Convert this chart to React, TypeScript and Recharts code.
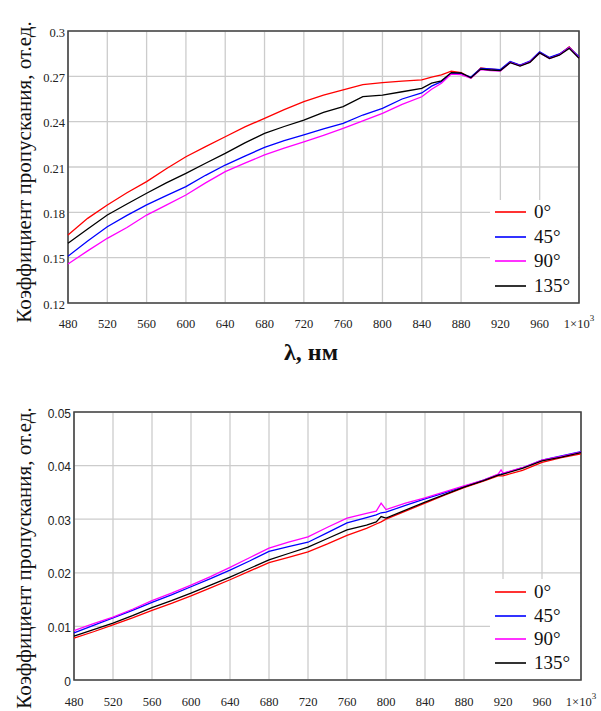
import React from 'react'
import {
  LineChart,
  Line,
  XAxis,
  YAxis,
  CartesianGrid,
  ReferenceArea,
} from 'recharts'

// wavelengths, nm
const topLambda = [
  480, 500, 520, 540, 560, 580, 600, 620, 640, 660, 680, 700, 720, 740, 760,
  780, 800, 820, 840, 850, 860, 870, 880, 890, 900, 910, 920, 930, 940, 950,
  960, 970, 980, 990, 1000,
]
const top0 = [
  0.165, 0.176, 0.1849, 0.193, 0.2003, 0.2088, 0.2168, 0.2235, 0.23, 0.2365,
  0.2422, 0.248, 0.2532, 0.2575, 0.261, 0.2645, 0.2658, 0.2668, 0.2676, 0.2695,
  0.271, 0.2735, 0.2725, 0.269, 0.2755, 0.2748, 0.2742, 0.2795, 0.2772, 0.2795,
  0.2858, 0.2822, 0.2845, 0.2895, 0.2825,
]
const top45 = [
  0.151, 0.161, 0.1705, 0.178, 0.1849, 0.191, 0.197, 0.2045, 0.2113, 0.2172,
  0.223, 0.2275, 0.2312, 0.2352, 0.2389, 0.2444, 0.2488, 0.255, 0.259, 0.2635,
  0.2665, 0.272, 0.2718, 0.2695, 0.2752, 0.275, 0.2745, 0.2798, 0.2775, 0.28,
  0.2862, 0.2825, 0.2848, 0.2892, 0.283,
]
const top90 = [
  0.1458, 0.1545, 0.1628, 0.17, 0.1782, 0.1848, 0.1915, 0.1995, 0.2069, 0.2125,
  0.218, 0.2225, 0.2267, 0.231, 0.2356, 0.2405, 0.2455, 0.2515, 0.2565, 0.2615,
  0.2654, 0.2715, 0.2712, 0.2688, 0.2745, 0.2738, 0.2735, 0.2792, 0.277, 0.2795,
  0.2855, 0.2818, 0.2842, 0.289, 0.2822,
]
const top135 = [
  0.1595, 0.169, 0.1782, 0.1855, 0.1926, 0.1995, 0.2058, 0.2125, 0.219, 0.226,
  0.2323, 0.2368, 0.241, 0.2462, 0.25, 0.2566, 0.2576, 0.2598, 0.262, 0.2655,
  0.267, 0.2725, 0.2722, 0.269, 0.2748, 0.2742, 0.2738, 0.279, 0.2768, 0.2792,
  0.2855, 0.2818, 0.284, 0.2885, 0.282,
]

const botLambda = [
  480, 500, 520, 540, 560, 580, 600, 620, 640, 660, 680, 700, 720, 740, 760,
  780, 790, 795, 800, 820, 840, 860, 880, 900, 915, 918, 920, 940, 960, 980,
  1000,
]
const bot0 = [
  0.0078, 0.009, 0.0103, 0.0116, 0.013, 0.0143, 0.0157, 0.0172, 0.0187, 0.0203,
  0.0219, 0.0229, 0.0239, 0.0254, 0.027, 0.0283, 0.0291, 0.0295, 0.03, 0.0315,
  0.033, 0.0345, 0.0359, 0.0371, 0.0381, 0.0381, 0.0381, 0.0391, 0.0406,
  0.0415, 0.0422,
]
const bot45 = [
  0.0088, 0.0102, 0.0116, 0.013, 0.0145, 0.0159, 0.0174, 0.0189, 0.0205, 0.0222,
  0.024, 0.0249, 0.0257, 0.0275, 0.0293, 0.0303, 0.0308, 0.0312, 0.0313, 0.0326,
  0.0338, 0.0349, 0.0361, 0.0373, 0.0383, 0.0384, 0.0385, 0.0396, 0.041,
  0.0418, 0.0426,
]
const bot90 = [
  0.0092, 0.0105, 0.01175, 0.0132, 0.0148, 0.0162, 0.0177, 0.0193, 0.021,
  0.0228, 0.0246, 0.0257, 0.0267, 0.0285, 0.0302, 0.0311, 0.0315, 0.033, 0.0318,
  0.033, 0.034, 0.0351, 0.0362, 0.0373, 0.0384, 0.0392, 0.0386, 0.0396, 0.041,
  0.0417, 0.0425,
]
const bot135 = [
  0.0082, 0.0094, 0.0106, 0.012, 0.0135, 0.0148, 0.0162, 0.0177, 0.0192, 0.0208,
  0.0224, 0.0236, 0.0248, 0.0264, 0.028, 0.0289, 0.0295, 0.0305, 0.0302, 0.0317,
  0.0332, 0.0346, 0.036, 0.0372, 0.0382, 0.0383, 0.0384, 0.0395, 0.0409,
  0.0416, 0.0424,
]

const xTicks = [480, 520, 560, 600, 640, 680, 720, 760, 800, 840, 880, 920, 960, 1000]
const topYTicks = [0.12, 0.15, 0.18, 0.21, 0.24, 0.27, 0.3]
const botYTicks = [0, 0.01, 0.02, 0.03, 0.04, 0.05]

const seriesNames = ['0°', '45°', '90°', '135°']
const seriesColors = ['#ff0000', '#0000ff', '#ff00ff', '#000000']

const topData = topLambda.map((l, i) => ({
  l, s0: top0[i], s45: top45[i], s90: top90[i], s135: top135[i],
}))
const botData = botLambda.map((l, i) => ({
  l, s0: bot0[i], s45: bot45[i], s90: bot90[i], s135: bot135[i],
}))
const keys = ['s0', 's45', 's90', 's135']

const SERIF = '"Liberation Serif", "DejaVu Serif", Tinos, serif'
const SANS = '"Liberation Sans", Arial, sans-serif'

const XTick = ({ x, y, payload, dy }: any) => {
  const v = payload.value
  const common = {
    x, y: y + dy, textAnchor: 'middle' as const, dominantBaseline: 'central' as const,
    style: { fontFamily: SERIF, fontSize: 12.5 }, fill: '#222',
  }
  if (v === 1000) {
    return (
      <text {...common}>
        1×10<tspan dy={-6} fontSize={9}>3</tspan>
      </text>
    )
  }
  return <text {...common}>{v}</text>
}

const YTick = ({ x, y, payload, font, size }: any) => (
  <text
    x={x - 3}
    y={y + 1.5}
    textAnchor="end"
    dominantBaseline="central"
    style={{ fontFamily: font, fontSize: size }}
    fill="#222"
  >
    {String(payload.value)}
  </text>
)

const LegendBox = ({ left, top, width, height, rows }: any) => (
  <div
    style={{
      position: 'absolute', left, top, width, height, background: '#fff',
      zIndex: 2,
    }}
  >
    {seriesNames.map((name, i) => (
      <div
        key={name}
        style={{
          position: 'absolute', left: 5, top: rows[i] - top - 12, height: 24,
          display: 'flex', alignItems: 'center',
        }}
      >
        <div style={{ width: 31, height: 1.5, background: seriesColors[i], opacity: 0.8 }} />
        <span
          style={{
            marginLeft: 8, fontFamily: SERIF, fontSize: 19, color: '#111',
            lineHeight: '24px',
          }}
        >
          {name}
        </span>
      </div>
    ))}
  </div>
)

const YTitle = ({ cy }: { cy: number }) => (
  <div
    style={{
      position: 'absolute', left: 24, top: cy, whiteSpace: 'nowrap',
      transform: 'translate(-50%, -50%) rotate(-90deg)',
      fontFamily: SERIF, fontSize: 21, color: '#111', zIndex: 3,
    }}
  >
    Коэффициент пропускания, от.ед.
  </div>
)

function Panel({ data, yTicks, yDomain, width, height, margin, yWidth, xHeight, tickDy, yFont, ySize }: any) {
  return (
    <LineChart width={width} height={height} data={data} margin={margin}>
      <CartesianGrid stroke="#cccccc" strokeWidth={1.3} />
      <XAxis
        dataKey="l"
        type="number"
        domain={[480, 1000]}
        ticks={xTicks}
        axisLine={false}
        tickLine={false}
        tickSize={0}
        tickMargin={0}
        height={xHeight}
        interval={0}
        tick={<XTick dy={tickDy} />}
      />
      <YAxis
        type="number"
        domain={yDomain}
        ticks={yTicks}
        axisLine={false}
        tickLine={false}
        tickSize={0}
        tickMargin={0}
        width={yWidth}
        interval={0}
        allowDataOverflow
        tick={<YTick font={yFont} size={ySize} />}
      />
      {keys.map((k, i) => (
        <Line
          key={k}
          dataKey={k}
          type="linear"
          stroke={seriesColors[i]}
          strokeWidth={1.3}
          dot={false}
          isAnimationActive={false}
        />
      ))}
      <ReferenceArea
        x1={480}
        x2={1000}
        y1={yDomain[0]}
        y2={yDomain[1]}
        fill="none"
        stroke="#444"
        strokeWidth={1.6}
        ifOverflow="visible"
      />
    </LineChart>
  )
}

export default function App() {
  return (
    <div style={{ position: 'absolute', left: 0, top: 0, width: 601, height: 711, background: '#fff', overflow: 'hidden' }}>
      <div style={{ position: 'absolute', left: 0, top: 0 }}>
        <Panel
          data={topData}
          yTicks={topYTicks}
          yDomain={[0.12, 0.3]}
          width={601}
          height={370}
          margin={{ top: 31, right: 22, left: 0, bottom: 0 }}
          yWidth={68}
          xHeight={67}
          tickDy={21}
          yFont={SERIF}
          ySize={12.5}
        />
      </div>
      <LegendBox left={490} top={200} width={88} height={102} rows={[212, 237, 261, 286]} />
      <div
        style={{
          position: 'absolute', left: 311, top: 352, transform: 'translate(-50%, -50%)',
          fontFamily: SERIF, fontSize: 24, fontWeight: 'bold', color: '#111', whiteSpace: 'nowrap',
        }}
      >
        λ, нм
      </div>
      <YTitle cy={172} />

      <div style={{ position: 'absolute', left: 0, top: 380 }}>
        <Panel
          data={botData}
          yTicks={botYTicks}
          yDomain={[0, 0.05]}
          width={601}
          height={331}
          margin={{ top: 32, right: 20, left: 0, bottom: 0 }}
          yWidth={74}
          xHeight={31}
          tickDy={22}
          yFont={SANS}
          ySize={12}
        />
      </div>
      <LegendBox left={490} top={579} width={90} height={100} rows={[592, 616, 639, 663]} />
      <YTitle cy={558} />
    </div>
  )
}
